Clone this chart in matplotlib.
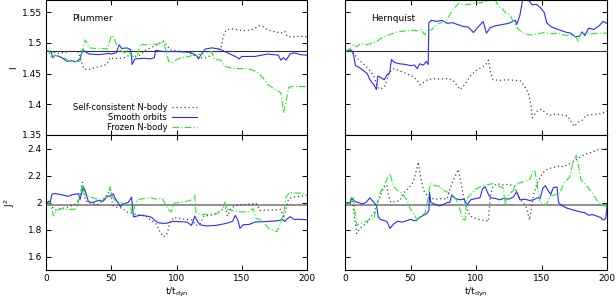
import matplotlib
matplotlib.use('Agg')
import matplotlib.pyplot as plt

# ---- Plummer, I ----
pl_I_sc_t = [0, 5, 10, 15, 20, 25, 27, 29, 32, 36, 40, 44, 47, 49, 52, 56, 60, 64, 68, 72, 76, 80, 85, 88, 90,
             92, 95, 100, 105, 110, 115, 118, 122, 126, 130, 134, 136, 138, 142, 148, 152, 157, 160, 163, 166, 170,
             176, 180, 183, 185, 190, 195, 200]
pl_I_sc = [1.487, 1.485, 1.483, 1.485, 1.487, 1.485, 1.470, 1.458, 1.456, 1.459, 1.461, 1.463, 1.466, 1.476, 1.474,
           1.475, 1.476, 1.480, 1.478, 1.480, 1.488, 1.492, 1.497, 1.501, 1.503, 1.498, 1.489, 1.487, 1.486, 1.484,
           1.478, 1.475, 1.476, 1.479, 1.486, 1.491, 1.512, 1.521, 1.523, 1.521, 1.520, 1.521, 1.524, 1.528, 1.527,
           1.521, 1.518, 1.516, 1.519, 1.510, 1.510, 1.511, 1.510]
pl_I_sm_t = [0, 2, 4, 5, 7, 10, 13, 16, 20, 23, 26, 28, 30, 33, 40, 45, 48, 50, 54, 56, 58, 62, 65, 66, 68, 75, 80,
             83, 84, 90, 100, 110, 115, 117, 119, 122, 127, 133, 140, 145, 148, 150, 160, 170, 178, 180, 182, 184,
             187, 190, 195, 200]
pl_I_sm = [1.487, 1.487, 1.486, 1.476, 1.480, 1.478, 1.475, 1.470, 1.471, 1.469, 1.474, 1.489, 1.486, 1.482, 1.481,
           1.482, 1.483, 1.482, 1.484, 1.497, 1.491, 1.492, 1.489, 1.465, 1.474, 1.475, 1.474, 1.476, 1.488, 1.486,
           1.486, 1.485, 1.480, 1.474, 1.482, 1.490, 1.492, 1.490, 1.483, 1.478, 1.474, 1.478, 1.478, 1.482, 1.480,
           1.472, 1.476, 1.472, 1.482, 1.484, 1.481, 1.480]
pl_I_fr_t = [0, 2, 4, 7, 10, 14, 18, 22, 26, 28, 30, 33, 38, 44, 47, 50, 52, 54, 57, 60, 63, 65, 68, 70, 72, 76, 82,
             86, 89, 91, 94, 97, 101, 105, 110, 114, 118, 122, 127, 129, 134, 137, 142, 148, 154, 158, 162, 166, 170,
             173, 177, 180, 182, 184, 186, 190, 200]
pl_I_fr = [1.487, 1.488, 1.476, 1.480, 1.478, 1.476, 1.469, 1.470, 1.470, 1.487, 1.505, 1.492, 1.491, 1.491, 1.490,
           1.512, 1.509, 1.497, 1.488, 1.484, 1.488, 1.480, 1.476, 1.478, 1.498, 1.497, 1.498, 1.498, 1.501, 1.495,
           1.470, 1.468, 1.474, 1.477, 1.478, 1.482, 1.481, 1.483, 1.486, 1.473, 1.472, 1.462, 1.459, 1.458, 1.458,
           1.456, 1.452, 1.444, 1.432, 1.428, 1.422, 1.419, 1.386, 1.405, 1.428, 1.429, 1.429]

# ---- Hernquist, I ----
he_I_sc_t = [0, 4, 7, 10, 13, 16, 19, 22, 24, 26, 28, 30, 32, 34, 37, 41, 45, 49, 52, 55, 57, 60, 63, 67, 72, 77, 82,
             85, 88, 92, 96, 100, 104, 107, 109.5, 111, 113, 118, 124, 130, 134, 137, 140, 142, 143, 146, 150, 153,
             156, 160, 165, 170, 173, 175, 178, 181, 184, 188, 193, 197, 200]
he_I_sc = [1.487, 1.487, 1.482, 1.474, 1.468, 1.462, 1.455, 1.446, 1.433, 1.425, 1.426, 1.428, 1.440, 1.452, 1.458,
           1.455, 1.452, 1.448, 1.445, 1.440, 1.432, 1.436, 1.440, 1.442, 1.441, 1.442, 1.440, 1.432, 1.424, 1.434,
           1.447, 1.455, 1.460, 1.463, 1.472, 1.452, 1.440, 1.439, 1.440, 1.439, 1.438, 1.430, 1.418, 1.398, 1.378,
           1.388, 1.392, 1.386, 1.382, 1.384, 1.383, 1.381, 1.370, 1.364, 1.371, 1.374, 1.382, 1.383, 1.384, 1.386,
           1.389]
he_I_sm_t = [0, 4, 6, 8, 11, 14, 17, 19, 22, 24, 25, 27, 30, 32, 34, 35.5, 38, 42, 46, 50, 53, 55, 57, 60, 62, 63.5,
             64, 66, 70, 74, 78, 82, 86, 90, 94, 98, 102, 105.5, 108, 111, 115, 120, 125, 128, 130, 131, 133.5, 136,
             138, 140, 143, 146, 149, 152, 154, 157, 160, 164, 168, 172, 176, 179, 181, 183, 186, 190, 194, 197, 200]
he_I_sm = [1.487, 1.489, 1.486, 1.463, 1.460, 1.455, 1.450, 1.440, 1.432, 1.424, 1.446, 1.444, 1.440, 1.448, 1.451,
           1.473, 1.468, 1.466, 1.465, 1.463, 1.464, 1.458, 1.466, 1.464, 1.470, 1.465, 1.533, 1.537, 1.535, 1.537,
           1.532, 1.533, 1.530, 1.527, 1.526, 1.517, 1.527, 1.535, 1.516, 1.525, 1.528, 1.530, 1.532, 1.535, 1.537,
           1.530, 1.545, 1.575, 1.580, 1.570, 1.562, 1.563, 1.558, 1.550, 1.533, 1.527, 1.524, 1.521, 1.518, 1.516,
           1.510, 1.511, 1.518, 1.512, 1.524, 1.522, 1.528, 1.535, 1.532]
he_I_fr_t = [0, 3, 6, 9, 12, 16, 20, 24, 28, 32, 36, 40, 44, 50, 55, 58, 61, 63, 66, 70, 74, 78, 81, 84, 87, 90, 95,
             100, 105, 108, 111, 114, 117, 120, 123, 126, 129, 133, 137, 142, 147, 152, 157, 162, 167, 172, 176,
             178, 180, 185, 190, 195, 200]
he_I_fr = [1.487, 1.489, 1.497, 1.494, 1.499, 1.497, 1.499, 1.502, 1.508, 1.512, 1.515, 1.518, 1.519, 1.521, 1.520,
           1.522, 1.513, 1.523, 1.521, 1.530, 1.534, 1.538, 1.550, 1.558, 1.565, 1.562, 1.563, 1.565, 1.566, 1.568,
           1.572, 1.574, 1.560, 1.556, 1.548, 1.546, 1.532, 1.521, 1.515, 1.513, 1.515, 1.517, 1.515, 1.516, 1.513,
           1.512, 1.510, 1.503, 1.515, 1.516, 1.515, 1.516, 1.516]

# ---- Plummer, J^2 ----
pl_J_sc_t = [0, 3, 5.6, 8, 10, 14, 18, 22, 26, 28, 30, 32, 36, 40, 44, 47, 49.3, 51, 54, 58, 62, 66, 70, 76, 80, 84,
             87, 89.7, 92.5, 95, 98, 103, 108, 112, 115, 118, 121, 126, 131, 136, 138, 139, 142, 146, 152, 158, 161,
             164, 170, 176, 180, 182, 184, 186, 190, 195, 200]
pl_J_sc = [1.995, 1.99, 1.955, 1.945, 1.95, 1.96, 1.97, 1.985, 2.03, 2.15, 2.02, 2.0, 1.99, 1.985, 2.02, 2.06, 2.095,
           1.98, 1.965, 1.96, 1.93, 1.92, 1.91, 1.905, 1.87, 1.846, 1.79, 1.746, 1.76, 1.85, 1.89, 1.88, 1.875, 1.87,
           1.83, 1.84, 1.9, 1.905, 1.92, 1.955, 1.96, 1.9, 1.96, 1.98, 1.985, 1.99, 1.995, 1.94, 1.945, 1.945, 1.95,
           1.885, 1.96, 2.03, 2.04, 2.045, 2.055]
pl_J_sm_t = [0, 2, 3, 4.5, 6, 9, 13, 17, 20, 23, 25, 26, 28.5, 30, 32.5, 36, 40, 44, 47, 49, 51.5, 53, 55, 57, 59, 63,
             65.6, 67, 72, 77, 81, 83, 86, 90, 93, 97, 103, 108, 111.5, 113, 114, 116, 118, 123, 130, 138, 143, 145,
             147, 148.6, 151, 156, 160, 170, 178, 181, 183, 185, 187, 190, 195, 200]
pl_J_sm = [1.99, 2.01, 1.995, 2.06, 2.067, 2.063, 2.055, 2.045, 2.058, 2.062, 2.066, 2.02, 2.115, 2.09, 2.005, 2.0,
           2.015, 2.01, 2.05, 2.045, 2.065, 2.03, 2.0, 1.97, 1.99, 2.0, 2.04, 1.894, 1.905, 1.9, 1.89, 1.87, 1.85,
           1.845, 1.848, 1.86, 1.858, 1.855, 1.83, 1.87, 1.9, 1.86, 1.835, 1.826, 1.83, 1.845, 1.86, 1.905, 1.87,
           1.808, 1.835, 1.838, 1.855, 1.86, 1.865, 1.875, 1.86, 1.88, 1.895, 1.875, 1.875, 1.872]
pl_J_fr_t = [0, 2, 4, 5.6, 8, 11, 15, 20, 23.5, 26, 28.3, 29.5, 31, 36, 41, 44, 47, 49, 50.5, 53, 57, 62, 64, 66.4,
             68, 70, 75, 80, 84, 89, 91, 93.5, 96, 98, 103, 108, 112, 114, 115, 120, 126, 131, 135.6, 137, 139, 143,
             146, 150, 155, 158.6, 161, 164, 167, 171, 174, 177, 179.5, 182, 184, 187, 192, 197, 200]
pl_J_fr = [1.995, 1.995, 1.985, 1.90, 1.935, 1.955, 1.95, 1.948, 1.955, 2.055, 2.13, 2.06, 2.045, 2.035, 2.02, 2.03,
           2.04, 2.117, 2.05, 2.015, 2.0, 1.98, 1.985, 1.91, 1.98, 2.02, 2.03, 2.035, 2.025, 2.03, 1.995, 1.95, 1.93,
           1.995, 2.0, 2.01, 2.02, 2.055, 1.92, 1.91, 1.915, 1.915, 1.955, 2.0, 1.95, 1.94, 1.935, 1.93, 1.93, 1.955,
           1.88, 1.875, 1.85, 1.805, 1.795, 1.783, 1.84, 1.92, 2.042, 2.075, 2.07, 2.07, 2.05]

# ---- Hernquist, J^2 ----
he_J_sc_t = [0, 2, 4, 5, 6.3, 7.6, 9, 11.5, 14, 16.5, 19, 22, 24, 26.7, 29, 30.5, 32, 33, 35, 38, 42, 44.5, 48, 52,
             54, 56, 57.5, 60, 63.5, 66, 70, 74, 78, 80, 83, 86.5, 89, 91, 93, 95.5, 100, 104, 108, 109.4, 111, 113,
             116, 120, 125, 129, 131, 134, 138, 141, 143.7, 147, 151, 155, 159, 163, 167, 170, 174, 177, 180, 184,
             188, 192, 196, 200]
he_J_sc = [1.995, 1.99, 2.01, 2.03, 1.97, 1.86, 1.77, 1.81, 1.83, 1.845, 1.88, 1.92, 1.98, 2.04, 2.1, 2.12, 2.13,
           2.06, 2.0, 2.005, 2.015, 2.07, 2.1, 2.15, 2.22, 2.30, 2.2, 2.09, 2.04, 2.03, 2.025, 2.03, 2.025, 2.1, 2.17,
           2.245, 2.12, 2.02, 1.96, 1.9, 1.88, 1.87, 1.865, 1.86, 2.05, 2.12, 2.14, 2.13, 2.135, 2.12, 2.08, 2.02,
           1.975, 1.87, 2.05, 2.15, 2.22, 2.25, 2.26, 2.27, 2.265, 2.28, 2.30, 2.32, 2.34, 2.36, 2.37, 2.389, 2.395,
           2.397]
he_J_sm_t = [0, 2, 4, 5, 6, 8, 10, 13, 16, 19, 21.6, 24, 25.4, 27, 30, 32, 34.3, 37, 40, 44, 47, 50, 53, 55, 57, 60,
             62.5, 64, 64.5, 65.5, 68, 72, 75, 78, 80, 81.4, 84, 88, 91, 93, 96, 100, 103, 105, 107, 109, 111, 115,
             118, 121, 125, 128.5, 131, 133.5, 137, 141, 144, 147, 149, 151, 153, 155, 157, 159, 161.8, 163, 165,
             169, 172, 176, 180, 183, 186, 189, 192, 195, 197, 199, 200]
he_J_sm = [1.99, 2.0, 1.995, 2.035, 2.02, 2.005, 2.0, 1.99, 2.0, 2.035, 2.005, 1.98, 1.894, 1.875, 1.865, 1.86, 1.808,
           1.84, 1.86, 1.855, 1.865, 1.875, 1.865, 1.87, 1.89, 1.905, 1.92, 1.94, 2.075, 2.0, 1.99, 1.975, 1.985, 2.0,
           2.0, 2.055, 2.03, 2.02, 2.025, 1.98, 2.02, 2.03, 2.035, 2.1, 2.117, 2.07, 2.035, 2.03, 2.02, 2.03, 2.025,
           2.04, 2.08, 2.02, 2.025, 2.015, 2.02, 2.035, 2.03, 2.105, 2.125, 2.09, 2.06, 2.11, 2.115, 2.0, 1.98, 1.96,
           1.95, 1.94, 1.93, 1.925, 1.905, 1.91, 1.9, 1.89, 1.87, 1.88, 1.97]
he_J_fr_t = [0, 3, 5, 6.3, 7.6, 9, 12, 16, 20, 22, 24, 26.7, 29, 31, 34.3, 37, 40, 44.5, 47, 50, 53.4, 55, 57, 61,
             63.5, 65, 68, 72.5, 75, 80, 83, 86, 88, 90, 91.6, 93, 96, 100, 104, 108, 113, 116, 119, 121, 122, 124,
             128.5, 131, 135, 139, 141, 143.7, 145, 146.3, 148.7, 152, 154, 156.5, 160, 164, 167, 171.6, 174, 176.6,
             178, 180, 184, 188, 192, 196, 200]
he_J_fr = [1.995, 1.99, 2.03, 2.04, 1.93, 1.83, 1.845, 1.86, 1.88, 1.875, 1.97, 2.07, 2.11, 2.15, 2.215, 2.12, 2.09,
           2.06, 2.02, 1.95, 1.9, 1.87, 1.89, 1.92, 2.04, 2.14, 2.125, 2.12, 2.09, 2.07, 2.05, 2.0, 1.94, 1.875, 1.87,
           2.03, 2.06, 2.1, 2.12, 2.13, 2.14, 2.125, 2.115, 2.105, 1.98, 2.05, 2.09, 2.14, 2.15, 2.165, 2.17, 2.24,
           2.23, 2.16, 2.0, 1.99, 1.985, 2.05, 2.055, 2.07, 2.14, 2.19, 2.3, 2.35, 2.29, 2.17, 2.13, 2.08, 2.02, 1.98,
           1.97]

I_ref = 1.4865
J_ref = 1.978
labels = ['Self-consistent N-body', 'Smooth orbits', 'Frozen N-body']
names = ['Plummer', 'Hernquist']

plt.rcParams['font.family'] = 'DejaVu Sans'
plt.rcParams['font.size'] = 6.5

fig = plt.figure(figsize=(6.16, 3.01), dpi=100)
W, H = 616.0, 301.0
xl = [46, 345]
wd = [261, 262]
axes = {}
for c in range(2):
    axes[(0, c)] = fig.add_axes([xl[c] / W, (H - 135) / H, wd[c] / W, 135 / H])
    axes[(1, c)] = fig.add_axes([xl[c] / W, (H - 270) / H, wd[c] / W, 135 / H])

styles = [dict(color='#444444', ls=(0, (1, 2.2)), lw=0.9),
          dict(color='#2a2aff', ls='-', lw=0.8),
          dict(color='#22ee22', ls=(0, (6, 2, 1, 2)), lw=0.8)]

series = {
    (0, 0): [(pl_I_sc_t, pl_I_sc), (pl_I_sm_t, pl_I_sm), (pl_I_fr_t, pl_I_fr)],
    (0, 1): [(he_I_sc_t, he_I_sc), (he_I_sm_t, he_I_sm), (he_I_fr_t, he_I_fr)],
    (1, 0): [(pl_J_sc_t, pl_J_sc), (pl_J_sm_t, pl_J_sm), (pl_J_fr_t, pl_J_fr)],
    (1, 1): [(he_J_sc_t, he_J_sc), (he_J_sm_t, he_J_sm), (he_J_fr_t, he_J_fr)],
}

for (r, c), ax in axes.items():
    if r == 0:
        ax.axhline(I_ref, color='#333333', lw=0.8, zorder=1)
    else:
        ax.axhline(J_ref, color='#888888', lw=1.3, zorder=1)
    for (t, v), st, lab in zip(series[(r, c)], styles, labels):
        ax.plot(t, v, label=lab, **st)
    ax.set_xlim(0, 200)
    ax.set_xticks([0, 50, 100, 150, 200])
    ax.tick_params(direction='in', top=True, right=True, length=3.5, width=0.7, pad=3)
    for s in ax.spines.values():
        s.set_linewidth(0.8)
    if r == 0:
        ax.set_ylim(1.35, 1.57)
        ax.set_yticks([1.35, 1.4, 1.45, 1.5, 1.55])
        ax.set_yticklabels(['1.35', '1.4', '1.45', '1.5', '1.55'])
        ax.tick_params(labelbottom=False)
        ax.text(20, 1.54, names[c], ha='left', va='center', fontsize=6.5)
    else:
        ax.set_ylim(1.5, 2.5)
        ax.set_yticks([1.6, 1.8, 2.0, 2.2, 2.4])
        ax.set_yticklabels(['1.6', '1.8', '2', '2.2', '2.4'])
        ax.set_xlabel(r't/t$_{\rm dyn}$', labelpad=2)
    if c == 1:
        ax.tick_params(labelleft=False)

axes[(0, 0)].set_ylabel('I')
axes[(0, 0)].yaxis.set_label_coords(-0.105, 0.5)
axes[(1, 0)].set_ylabel(r'J$^2$')
axes[(1, 0)].yaxis.set_label_coords(-0.112, 0.5)

leg = axes[(0, 0)].legend(loc='lower right', bbox_to_anchor=(0.608, -0.03), frameon=False,
                          markerfirst=False, handlelength=3.0, handletextpad=0.6,
                          labelspacing=0.1, fontsize=6)

fig.savefig('out.png', dpi=100)
